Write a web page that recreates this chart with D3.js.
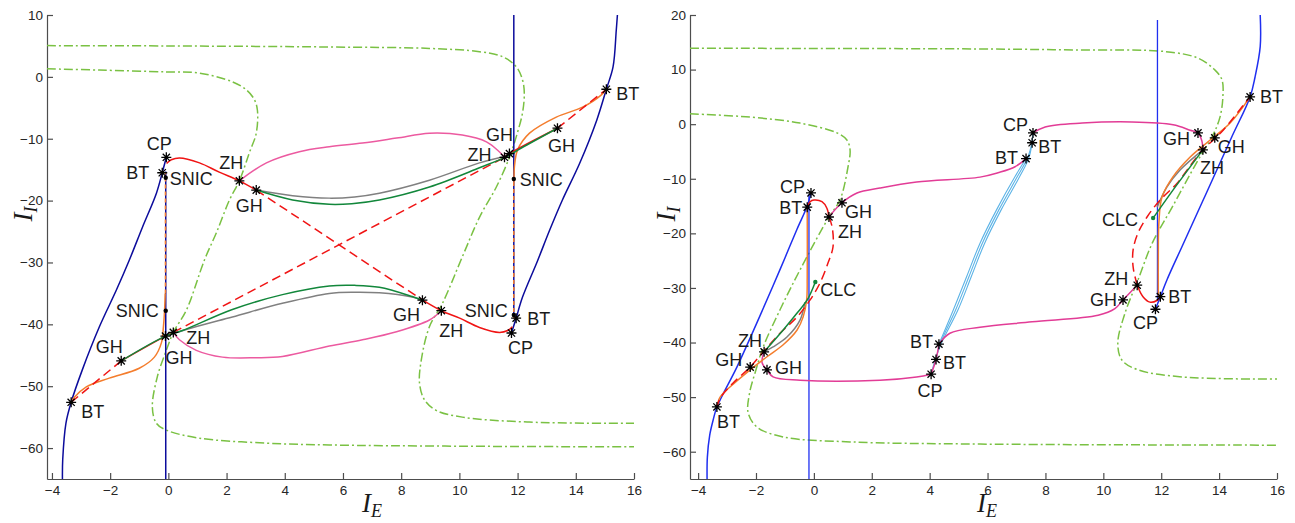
<!DOCTYPE html>
<html>
<head>
<meta charset="utf-8">
<script src="https://cdn.jsdelivr.net/npm/d3@7"></script>
<style>
  body { margin: 0; background: #fff; }
  svg { display: block; }
  .axis path, .axis line { stroke: #4d4d4d; stroke-width: 1.2; }
  .axis text { font-family: Arial, 'Liberation Sans', sans-serif; font-size: 13.5px; fill: #262626; }
  .mark-label { font-family: Arial, 'Liberation Sans', sans-serif; font-size: 18px; fill: #1a1a1a; }
  .axis-title { font-family: 'Liberation Serif', 'Times New Roman', serif; font-style: italic; fill: #1a1a1a; }
</style>
</head>
<body>
<svg id="chart" width="1295" height="523"></svg>
<script>
// tick labels
const xTickValues = [-4, -2, 0, 2, 4, 6, 8, 10, 12, 14, 16];
const leftYTicks = [-60, -50, -40, -30, -20, -10, 0, 10];
const rightYTicks = [-60, -50, -40, -30, -20, -10, 0, 10, 20];

// ---- left panel, points are [I_E, I_I] ----
const leftFoldA = [[-4.17,5.05],[0,5.0],[5.53,4.83],[8.97,4.6],[10.69,4.07],[11.48,3.26],[11.96,1.6],[12.17,-0.5],[12.23,-2.6],[12.17,-5.8],[11.99,-9.1],[11.72,-13.0],[11.27,-17.8],[10.69,-22.7],[10.1,-29.1],[9.42,-36.6],[8.97,-40.4],[8.69,-45.8],[8.63,-49.5],[8.8,-52.2],[9.2,-53.9],[10.1,-55.0],[12.4,-55.8],[16,-56.0]];
const leftFoldB = [[-4.17,1.3],[-2.37,1.1],[-0.07,0.8],[1.07,0.6],[2.2,-0.8],[2.68,-2.1],[2.96,-3.7],[3.06,-5.4],[3.02,-9.1],[2.78,-12.3],[2.44,-16.8],[2.1,-19.9],[1.65,-25.2],[1.24,-29.6],[0.62,-37.7],[0.17,-41.3],[-0.07,-44.2],[-0.38,-48.5],[-0.55,-53.4],[-0.41,-56],[-0.07,-57.1],[1.07,-58.4],[3.37,-59.2],[5.53,-59.5],[10,-59.7],[16,-59.8]];
const leftBlueLow = [[-3.64,-65],[-3.63,-61.9],[-3.52,-56],[-3.34,-52.6],[-2.96,-47.4],[-2.37,-40.4],[-1.79,-34.5],[-1.34,-29.6],[-0.89,-24.3],[-0.41,-18.8],[-0.21,-15.5],[-0.07,-13.0]];
const leftBlueHigh = [[15.43,10],[15.39,7.5],[15.28,1.6],[15.05,-2.0],[14.72,-7.0],[14.13,-14.0],[13.54,-19.9],[13.1,-24.8],[12.68,-29.8],[12.17,-35.6],[11.95,-39.0],[11.79,-41.4]];
const leftBlueVertLow = [[-0.09,-15.3],[-0.09,-65]];
const leftBlueVertHigh = [[11.87,10],[11.87,-39.0]];
const leftOrangeLow = [[-3.34,-52.6],[-3.23,-51.8],[-2.82,-50.1],[-2.03,-48.7],[-1.0,-47.1],[-0.48,-45.3],[-0.24,-43.0],[-0.17,-40.4],[-0.13,-37.7],[-0.11,-35]];
const leftOrangeVertLow = [[-0.1,-35],[-0.1,-15.5]];
const leftOrangeHigh = [[15.05,-2.0],[14.88,-2.9],[14.23,-4.9],[13.33,-6.5],[12.41,-9.1],[12.0,-11.8],[11.89,-14.6],[11.88,-17]];
const leftOrangeVertHigh = [[11.87,-17],[11.87,-39.0]];
const leftPinkTop = [[2.44,-16.8],[3.37,-13.9],[4.5,-12.1],[5.53,-11.3],[6.67,-10.7],[7.84,-9.9],[8.97,-9.1],[10.1,-9.4],[10.93,-10.5],[11.37,-12.1],[11.55,-13.0]];
const leftPinkBottom = [[0.17,-41.3],[0.38,-42.5],[0.96,-44.2],[1.86,-45.3],[3.02,-45.4],[3.92,-45.2],[5.53,-43.5],[6.67,-42.5],[7.84,-41.2],[8.97,-39.3],[9.38,-37.8]];
const leftGrayTop = [[3.02,-18.3],[4.27,-19.2],[5.53,-19.6],[6.4,-19.4],[7.25,-18.8],[8.97,-16.7],[10.69,-13.9],[11.5,-12.9]];
const leftGrayBottom = [[0.1,-41.6],[1.0,-40.3],[2.2,-38.8],[3.92,-36.6],[5.53,-35.0],[6.4,-34.8],[7.25,-34.9],[8.38,-35.6],[8.74,-36.1]];
const leftRedTop = [[-0.06,-14.0],[0.1,-13.4],[0.38,-13.1],[1.07,-13.9],[1.75,-15.4],[2.44,-16.8],[3.02,-18.3]];
const leftRedBottom = [[8.74,-36.1],[9.38,-37.8],[10.01,-39.0],[10.69,-40.5],[11.38,-41.3],[11.66,-41.0],[11.82,-40.4]];
const leftRedCross1 = [[3.02,-18.3],[8.74,-36.1]];
const leftRedCross2 = [[0.17,-41.3],[11.55,-13.0]];
const leftRedTailLow = [[-3.34,-52.6],[-1.62,-45.9]];
const leftRedTailHigh = [[13.37,-8.3],[15.05,-2.0]];
const leftRedMidLow = [[-1.62,-45.9],[-0.1,-41.9],[0.17,-41.3]];
const leftRedMidHigh = [[11.55,-13.0],[11.72,-12.4],[13.37,-8.3]];
const leftGreenTop = [[3.02,-18.3],[4.27,-19.9],[5.53,-20.6],[6.3,-20.5],[7.25,-19.9],[8.97,-17.8],[10.69,-14.7],[11.62,-12.9],[12.13,-11.5],[13.37,-8.3]];
const leftGreenBottom = [[-1.62,-45.9],[-0.1,-41.9],[0.48,-41.0],[2.2,-37.6],[3.92,-35.2],[5.53,-33.8],[6.4,-33.7],[7.25,-34.0],[8.38,-35.5],[8.74,-36.1]];
const leftStars = [['CP',-0.07,-13.0],['BT',-0.21,-15.5],['ZH',2.44,-16.8],['GH',3.02,-18.3],['GH',-0.1,-41.9],['ZH',0.17,-41.3],['GH',-1.62,-45.9],['BT',-3.34,-52.6],['ZH',11.55,-13.0],['GH',11.72,-12.4],['GH',13.37,-8.3],['BT',15.05,-2.0],['GH',8.73,-36.1],['ZH',9.38,-37.8],['BT',11.95,-39.0],['CP',11.79,-41.4]];
const leftDots = [['SNIC',-0.09,-16.3],['SNIC',-0.09,-37.8],['SNIC',11.87,-16.5],['SNIC',11.87,-38.5]];

// ---- right panel ----
const rightFoldA = [[-4.28,13.9],[5.0,13.8],[9.0,13.6],[12.14,13.3],[13.27,12.1],[13.86,9.9],[14.1,8.1],[14.13,5.0],[14.03,1.3],[13.76,-2.3],[13.27,-6.6],[12.38,-15.2],[11.69,-21.8],[11.2,-28.5],[10.75,-34.6],[10.5,-40.1],[10.64,-43.2],[11.2,-45],[12.72,-46.3],[16,-46.7]];
const rightFoldB = [[-4.28,1.9],[-2.21,1.3],[-0.48,0.2],[0.8,-1.6],[1.14,-2.9],[1.25,-4.7],[1.18,-7.8],[0.9,-13.9],[0.52,-17],[-0.48,-26.7],[-1.17,-34],[-1.75,-40.8],[-2.0,-45],[-2.22,-49.2],[-2.27,-52.9],[-1.96,-55.5],[-1.06,-57.3],[1.25,-58.2],[5.74,-58.6],[16,-58.8]];
const rightBlueLow = [[-3.69,-65],[-3.68,-61],[-3.6,-57],[-3.48,-54.2],[-3.35,-51.8],[-2.66,-44.5],[-1.97,-36.4],[-1.41,-29.6],[-1.0,-24.5],[-0.58,-19.2],[-0.23,-15.0],[-0.1,-12.6]];
const rightBlueHigh = [[15.42,20],[15.42,14.2],[15.24,8.6],[15.07,5],[14.44,-2.3],[13.51,-13.2],[12.72,-22.4],[12.2,-28.5],[11.97,-31.6],[11.8,-33.9]];
const rightBlueVertLow = [[-0.17,-12.8],[-0.17,-65]];
const rightBlueVertHigh = [[11.87,19.1],[11.87,-32.0]];
const rightSky1 = [[4.32,-40.3],[4.82,-34.0],[5.28,-27.9],[5.74,-21.8],[6.31,-15.7],[6.95,-9.6],[7.33,-6.3]];
const rightSky2 = [[4.22,-43.1],[4.36,-40.3],[4.9,-34.0],[5.36,-27.9],[5.82,-21.8],[6.39,-15.7],[7.03,-9.6],[7.38,-6.2],[7.54,-3.4]];
const rightSky3 = [[4.05,-45.8],[4.2,-43.0],[4.4,-40.2],[4.98,-34.0],[5.44,-27.9],[5.9,-21.8],[6.47,-15.7],[7.11,-9.6],[7.44,-6.0],[7.57,-1.6]];
const rightPinkTopLeft = [[0.52,-17],[0.97,-14.4],[1.49,-12.6],[2.28,-11.7],[3.55,-10.6],[5.74,-9.7],[6.36,-8.9],[6.95,-7.8],[7.33,-6.3]];
const rightPinkTopRight = [[7.57,-1.6],[7.99,-0.5],[9.27,0.2],[10.99,0.4],[12.41,-0.1],[13.0,-1.1],[13.27,-1.6],[13.4,-3.0],[13.44,-4.7]];
const rightPinkLowLeft = [[-1.72,-41.7],[-1.79,-43.7],[-1.62,-45],[-1.41,-46.3],[-0.48,-46.9],[2.28,-46.9],[3.55,-46.3],[4.05,-45.8]];
const rightPinkCusp = [[4.05,-45.8],[4.22,-43.1],[4.32,-40.3]];
const rightPinkLowRight = [[4.32,-40.3],[4.7,-38.3],[5.74,-37.2],[7.54,-36.2],[9.82,-35],[10.4,-33.8],[10.68,-32.2],[11.17,-29.5]];
const rightGrayLow = [[-0.31,-32.6],[-0.48,-35.9],[-0.93,-39],[-1.41,-40.8],[-1.72,-41.7]];
const rightGrayHigh = [[11.86,-15.2],[12.2,-11.5],[12.65,-8.4],[13.44,-4.7]];
const rightOrangeLow = [[-3.35,-51.8],[-3.24,-50],[-2.89,-48.1],[-2.2,-45],[-1.62,-42.6],[-1.06,-40.4],[-0.58,-37.7],[-0.37,-35.3],[-0.25,-32.2],[-0.23,-28],[-0.23,-15.2]];
const rightOrangeHigh = [[15.07,5],[14.38,0.2],[13.69,-2.9],[13.0,-6.0],[12.41,-9.6],[12.03,-13.3],[11.92,-18],[11.9,-24],[11.9,-31.6]];
const rightRedTop = [[-0.23,-15.2],[-0.13,-14.2],[0,-13.9],[0.28,-14.2],[0.45,-15.4],[0.52,-17]];
const rightRedDashLow = [[0.52,-17],[0.63,-18.8],[0.66,-22.5],[0.49,-25.4],[0.21,-29.1],[-0.13,-32.2],[-0.58,-35.3],[-1.17,-38.3],[-1.75,-41.7],[-2.2,-44.5],[-2.79,-47.4],[-3.24,-50.2],[-3.35,-51.8]];
const rightRedBottom = [[11.97,-31.6],[11.85,-32.3],[11.61,-32.6],[11.37,-31.6],[11.17,-29.5]];
const rightRedDashHigh = [[11.17,-29.5],[11.03,-26.2],[11.03,-23],[11.2,-19.9],[11.51,-17],[11.96,-13.9],[12.55,-10.8],[13.34,-5.3],[14.14,-1.1],[14.9,3.9],[15.07,5]];
const rightGreenLow = [[0.05,-28.9],[-0.23,-32.2],[-0.58,-34.6],[-1.06,-37.7],[-1.72,-41.7]];
const rightGreenHigh = [[11.72,-17.2],[12.5,-11.4],[13.44,-4.7]];
const rightStars = [['CP',-0.1,-12.6],['BT',-0.23,-15.2],['ZH',0.52,-17],['GH',0.97,-14.4],['ZH',-1.72,-41.7],['GH',-2.2,-44.5],['GH',-1.62,-45],['BT',-3.35,-51.8],['BT',4.32,-40.3],['BT',4.22,-43.1],['CP',4.05,-45.8],['CP',7.57,-1.6],['BT',7.54,-3.4],['BT',7.33,-6.3],['GH',13.27,-1.6],['GH',13.85,-2.5],['ZH',13.44,-4.7],['BT',15.07,5],['ZH',11.17,-29.5],['GH',10.68,-32.2],['BT',11.97,-31.6],['CP',11.8,-33.9]];
const rightDots = [['CLC',0.05,-28.9],['CLC',11.72,-17.2]];

// label placement next to each marker: [text-anchor, dx, dy] in px
const leftStarPlace = [['middle',-7,-14],['end',-13,0],['middle',-8,-18],['middle',-7,15],['start',0,21],['start',13,5],['middle',-12,-14],['start',10,9],['end',-13,-3],['middle',-10,-19],['middle',4,17],['start',10,4],['middle',-16,14],['middle',10,20],['start',11,0],['middle',9,15]];
const leftDotPlace = [['start',4,1],['end',-7,0],['start',6,1],['end',-6,-5]];
const rightStarPlace = [['end',-6,-6],['end',-5,0],['start',9,15],['start',3,9],['middle',-14,-11],['end',-8,-8],['start',8,-2],['start',0,15],['end',-6,-3],['start',7,3],['middle',-1,16],['end',-5,-8],['start',6,4],['end',-8,-1],['end',-8,6],['start',3,9],['start',-3,18],['start',10,0],['end',-9,-7],['end',-6,0],['start',8,0],['middle',-10,13]];
const rightDotPlace = [['start',5,8],['end',-15,1]];

const C = {
  fold: '#7ac143', blueL: '#0c0c9c', blueR: '#1f2ff0', red: '#f01414', orange: '#f47d2d',
  green: '#12873b', gray: '#808080', pinkL: '#ec5aa0', pinkR: '#e23c96', sky: '#5cb3e6'
};
const DASH = { fold: '9,3,2,3', red: '9,5', overlay: '4,3' };

function curve(pts, color, dash, width) {
  return { pts, color, dash, width };
}

const svg = d3.select('#chart');

const panels = [
  {
    xDomain: [-4.17, 16], xRange: [47, 634],
    yDomain: [-65, 10], yRange: [479, 15], yTicks: leftYTicks,
    titleX: 362, titleY: [32, 214],
    curves: [
      curve(leftFoldA, C.fold, DASH.fold),
      curve(leftFoldB, C.fold, DASH.fold),
      curve(leftBlueLow, C.blueL),
      curve(leftBlueHigh, C.blueL),
      curve(leftBlueVertLow, C.blueL),
      curve(leftBlueVertHigh, C.blueL),
      curve(leftPinkTop, C.pinkL),
      curve(leftPinkBottom, C.pinkL),
      curve(leftGrayTop, C.gray),
      curve(leftGrayBottom, C.gray),
      curve(leftOrangeLow, C.orange),
      curve(leftOrangeHigh, C.orange),
      curve(leftOrangeVertLow, C.orange, DASH.overlay),
      curve(leftOrangeVertHigh, C.orange, DASH.overlay),
      curve(leftRedTop, C.red),
      curve(leftRedBottom, C.red),
      curve(leftRedCross1, C.red, DASH.red),
      curve(leftRedCross2, C.red, DASH.red),
      curve(leftRedTailLow, C.red, DASH.red),
      curve(leftRedTailHigh, C.red, DASH.red),
      curve(leftRedMidLow, C.red),
      curve(leftRedMidHigh, C.red),
      curve(leftGreenTop, C.green),
      curve(leftGreenBottom, C.green)
    ],
    stars: leftStars, starPlace: leftStarPlace,
    dots: leftDots, dotPlace: leftDotPlace, dotColor: '#000'
  },
  {
    xDomain: [-4.28, 16], xRange: [690, 1277],
    yDomain: [-65, 20], yRange: [479, 15], yTicks: rightYTicks,
    titleX: 977, titleY: [675, 214],
    curves: [
      curve(rightFoldA, C.fold, DASH.fold),
      curve(rightFoldB, C.fold, DASH.fold),
      curve(rightBlueLow, C.blueR),
      curve(rightBlueHigh, C.blueR),
      curve(rightBlueVertLow, C.blueR, null, 1.3),
      curve(rightBlueVertHigh, C.blueR, null, 1.3),
      curve(rightSky1, C.sky, null, 1.1),
      curve(rightSky2, C.sky, null, 1.1),
      curve(rightSky3, C.sky, null, 1.1),
      curve(rightPinkTopLeft, C.pinkR),
      curve(rightPinkTopRight, C.pinkR),
      curve(rightPinkLowLeft, C.pinkR),
      curve(rightPinkCusp, C.pinkR),
      curve(rightPinkLowRight, C.pinkR),
      curve(rightGrayLow, C.gray),
      curve(rightGrayHigh, C.gray),
      curve(rightOrangeLow, C.orange),
      curve(rightOrangeHigh, C.orange),
      curve(rightRedTop, C.red),
      curve(rightRedBottom, C.red),
      curve(rightRedDashLow, C.red, DASH.red),
      curve(rightRedDashHigh, C.red, DASH.red),
      curve(rightGreenLow, C.green),
      curve(rightGreenHigh, C.green)
    ],
    stars: rightStars, starPlace: rightStarPlace,
    dots: rightDots, dotPlace: rightDotPlace, dotColor: C.green
  }
];

const STAR = 'M-5,0H5M0,-5V5M-3.6,-3.6L3.6,3.6M-3.6,3.6L3.6,-3.6';

function drawPanel(p) {
  const x = d3.scaleLinear().domain(p.xDomain).range(p.xRange);
  const y = d3.scaleLinear().domain(p.yDomain).range(p.yRange);
  const g = svg.append('g');

  // axes (ticks point inwards)
  const xAxis = g.append('g')
    .attr('class', 'axis')
    .attr('transform', `translate(0,${p.yRange[0]})`)
    .call(d3.axisBottom(x).tickValues(xTickValues).tickSize(-6).tickSizeOuter(0).tickPadding(6));
  const yAxis = g.append('g')
    .attr('class', 'axis')
    .attr('transform', `translate(${p.xRange[0]},0)`)
    .call(d3.axisLeft(y).tickValues(p.yTicks).tickSize(-6).tickSizeOuter(0).tickPadding(4));
  [xAxis, yAxis].forEach((a) => a.attr('font-size', null).attr('font-family', null));

  const line = d3.line()
    .x((d) => x(d[0]))
    .y((d) => y(d[1]))
    .curve(d3.curveCatmullRom.alpha(0.5));

  g.append('g')
    .selectAll('path')
    .data(p.curves)
    .join('path')
    .attr('d', (c) => line(c.pts))
    .attr('fill', 'none')
    .attr('stroke', (c) => c.color)
    .attr('stroke-width', (c) => c.width || 1.5)
    .attr('stroke-dasharray', (c) => c.dash || null);

  // bifurcation points
  g.append('g')
    .selectAll('path')
    .data(p.stars)
    .join('path')
    .attr('d', STAR)
    .attr('transform', (d) => `translate(${x(d[1])},${y(d[2])})`)
    .attr('stroke', '#000')
    .attr('stroke-width', 1.3)
    .attr('fill', 'none');

  g.append('g')
    .selectAll('circle')
    .data(p.dots)
    .join('circle')
    .attr('cx', (d) => x(d[1]))
    .attr('cy', (d) => y(d[2]))
    .attr('r', 2.2)
    .attr('fill', p.dotColor);

  const labels = p.stars.map((d, i) => [d, p.starPlace[i]])
    .concat(p.dots.map((d, i) => [d, p.dotPlace[i]]));

  g.append('g')
    .selectAll('text')
    .data(labels)
    .join('text')
    .attr('class', 'mark-label')
    .attr('x', ([d, pl]) => x(d[1]) + pl[1])
    .attr('y', ([d, pl]) => y(d[2]) + pl[2] + 6.5)
    .attr('text-anchor', ([, pl]) => pl[0])
    .text(([d]) => d[0]);

  // axis titles
  const tx = g.append('text')
    .attr('class', 'axis-title')
    .attr('x', p.titleX)
    .attr('y', 512)
    .attr('font-size', 27);
  tx.append('tspan').text('I');
  tx.append('tspan').attr('font-size', 18).attr('dy', 5).text('E');

  const ty = g.append('text')
    .attr('class', 'axis-title')
    .attr('text-anchor', 'middle')
    .attr('transform', `translate(${p.titleY[0]},${p.titleY[1]}) rotate(-90)`)
    .attr('font-size', 27);
  ty.append('tspan').text('I');
  ty.append('tspan').attr('font-size', 18).attr('dy', 5).text('I');
}

panels.forEach(drawPanel);
</script>
</body>
</html>
